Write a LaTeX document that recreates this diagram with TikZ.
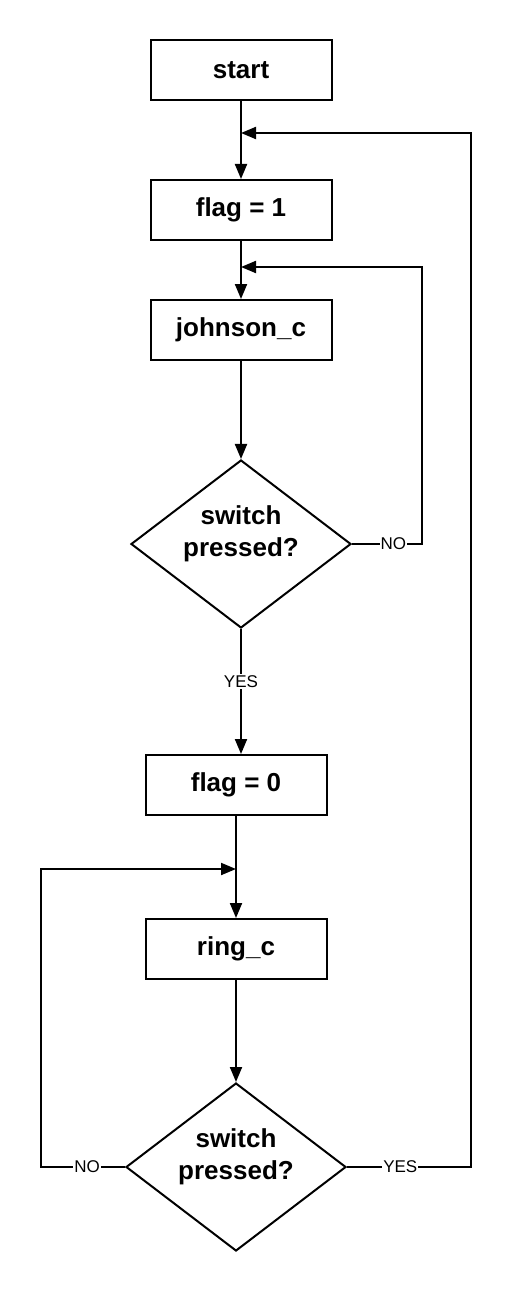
\documentclass[tikz,border=0pt]{standalone}
\usepackage{fontspec}
\setmainfont{Liberation Sans}
\usetikzlibrary{shapes.geometric,arrows.meta}

\tikzset{every picture/.style={line width=2pt}}
\tikzset{
  procbox/.style={draw,rectangle,minimum width=181pt,minimum height=60pt,inner sep=0pt,font=\fontsize{26}{32}\selectfont\bfseries},
  decbox/.style={draw,diamond,aspect=1.31,minimum width=220pt,minimum height=168pt,inner sep=0pt},
  dectext/.style={inner sep=0pt,align=center,font=\fontsize{26}{32}\selectfont\bfseries},
  lbl/.style={fill=white,inner sep=1pt,font=\fontsize{17}{20}\selectfont},
  arr/.style={-{Triangle[length=15pt,width=12pt]}}
}

\begin{document}
\begin{tikzpicture}[x=1pt,y=1pt,yscale=-1,xscale=1]
        \useasboundingbox (0,0) rectangle (512,1292); %set diagram size

        %Shapes: boxes and decisions
        \node [procbox] (start) at (241,70) {start};
        \node [procbox] (flagone) at (241,210) {flag = 1};
        \node [procbox] (johnson) at (241,330) {johnson\_c};
        \node [decbox] (switchA) at (241,544) {};
        \node [procbox] (flagzero) at (236,785) {flag = 0};
        \node [procbox] (ring) at (236,949) {ring\_c};
        \node [decbox] (switchB) at (236,1167) {};

        % Text Node
        \node [dectext] (askA) at (241,534) {switch\\pressed?};
        % Text Node
        \node [dectext] (askB) at (236,1157) {switch\\pressed?};

        %Bend points
        \coordinate (joinA) at (241,133);
        \coordinate (joinB) at (241,267);
        \coordinate (joinC) at (236,869);

        %Straight Lines
        \draw [arr] (start) -- (flagone);
        \draw [arr] (flagone) -- (johnson);
        \draw [arr] (johnson) -- (switchA);
        \draw [arr] (switchA.south) -- node [lbl,pos=0.42] {YES} (switchA.south |- flagzero.north);
        \draw [arr] (flagzero) -- (ring);
        \draw [arr] (ring) -- (switchB);

        %Loop Lines
        \draw [arr] (switchA.east) -- node [lbl,pos=0.59] {NO} (422,544) -- (422,267) -- (joinB);
        \draw [arr] (switchB.west) -- node [lbl,pos=0.45] {NO} (41,1167) -- (41,869) -- (joinC);
        \draw [arr] (switchB.east) -- node [lbl,pos=0.43] {YES} (471,1167) -- (471,133) -- (joinA);

    \end{tikzpicture}
\end{document}
